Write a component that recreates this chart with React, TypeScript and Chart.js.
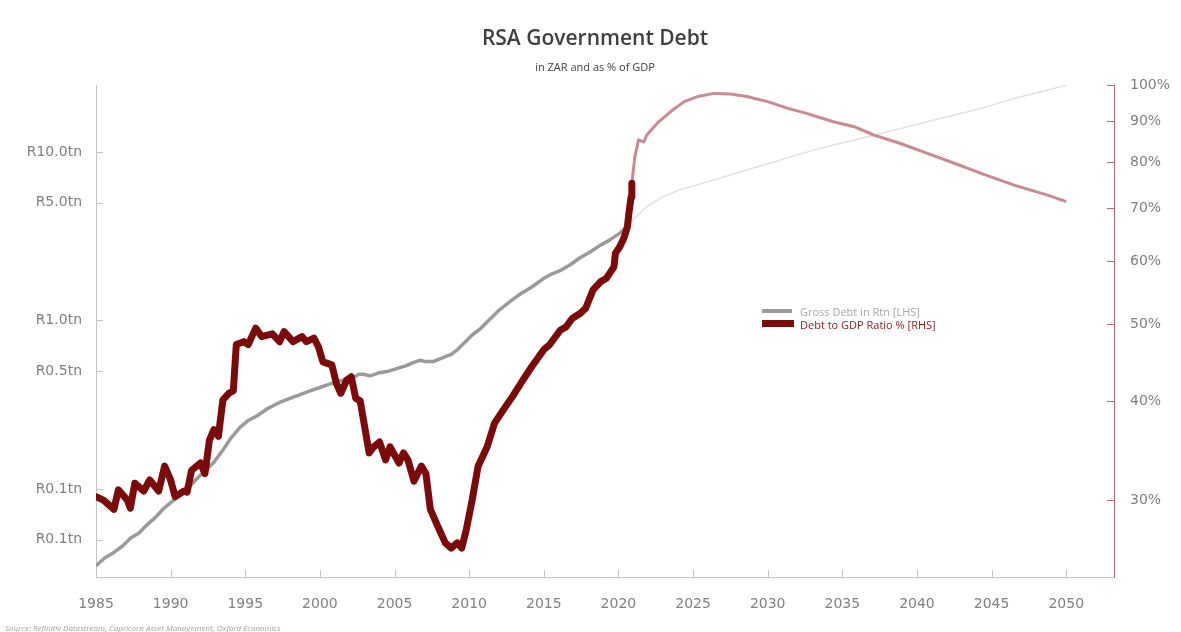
import React, { useEffect, useRef } from "react";
import { Chart, registerables } from "chart.js";

Chart.register(...registerables);

// Gross debt (R trillion), actual
const debtYears = [1985.0, 1985.6, 1986.2, 1986.8, 1987.3, 1987.9, 1988.4, 1989.0, 1989.5, 1990.0, 1990.6, 1991.2, 1991.75, 1992.3, 1992.9, 1993.5, 1994.0, 1994.65, 1995.2, 1995.8, 1996.5, 1997.3, 1998.0, 1998.45, 1999.2, 2000.0, 2000.7, 2001.35, 2002.25, 2002.6, 2002.9, 2003.35, 2004.0, 2004.6, 2005.2, 2005.8, 2006.2, 2006.7, 2007.1, 2007.6, 2008.2, 2008.8, 2009.2, 2009.7, 2010.2, 2010.7, 2011.3, 2012.0, 2012.9, 2013.5, 2014.2, 2015.0, 2015.6, 2016.2, 2016.8, 2017.4, 2018.1, 2018.8, 2019.4, 2020.1, 2020.5, 2020.8];
const debtValues = [0.035, 0.039, 0.042, 0.046, 0.051, 0.055, 0.061, 0.068, 0.076, 0.083, 0.091, 0.102, 0.115, 0.128, 0.144, 0.17, 0.198, 0.232, 0.255, 0.272, 0.3, 0.326, 0.345, 0.357, 0.378, 0.4, 0.42, 0.438, 0.458, 0.48, 0.479, 0.469, 0.49, 0.5, 0.52, 0.54, 0.56, 0.58, 0.57, 0.57, 0.6, 0.63, 0.67, 0.74, 0.82, 0.885, 1.0, 1.15, 1.33, 1.45, 1.58, 1.78, 1.9, 2.0, 2.15, 2.35, 2.55, 2.8, 3.0, 3.3, 3.55, 3.8];

// Gross debt (R trillion), forecast
const debtForecastYears = [2020.8, 2021.9, 2023.0, 2024.1, 2026.4, 2028.6, 2030.85, 2033.1, 2035.3, 2037.6, 2039.8, 2042.0, 2044.25, 2046.5, 2048.7, 2050.0];
const debtForecastValues = [3.8, 4.75, 5.44, 5.96, 6.83, 7.83, 8.97, 10.3, 11.5, 12.9, 14.45, 16.2, 18.1, 20.8, 23.3, 24.9];

// Debt to GDP ratio (%), actual
const ratioYears = [1985.0, 1985.5, 1986.2, 1986.5, 1987.1, 1987.3, 1987.6, 1988.2, 1988.6, 1989.2, 1989.6, 1990.0, 1990.3, 1990.9, 1991.1, 1991.4, 1992.0, 1992.3, 1992.6, 1992.9, 1993.2, 1993.5, 1993.9, 1994.2, 1994.4, 1994.9, 1995.2, 1995.7, 1996.1, 1996.8, 1997.3, 1997.6, 1998.2, 1998.8, 1999.1, 1999.6, 1999.9, 2000.2, 2000.8, 2001.1, 2001.4, 2001.8, 2002.1, 2002.4, 2002.7, 2003.3, 2003.6, 2004.0, 2004.4, 2004.7, 2005.3, 2005.6, 2005.9, 2006.3, 2006.8, 2007.1, 2007.4, 2007.9, 2008.4, 2008.8, 2009.2, 2009.5, 2009.8, 2010.2, 2010.6, 2011.2, 2011.7, 2012.3, 2012.9, 2013.6, 2014.2, 2015.0, 2015.4, 2016.1, 2016.5, 2016.9, 2017.4, 2017.8, 2018.3, 2018.8, 2019.2, 2019.7, 2019.8, 2020.1, 2020.4, 2020.6, 2020.7, 2020.85, 2020.9];
const ratioValues = [30.3, 30.0, 29.2, 30.9, 30.0, 29.3, 31.5, 30.8, 31.8, 30.8, 33.1, 31.8, 30.3, 30.8, 30.7, 32.7, 33.4, 32.4, 35.7, 36.8, 36.1, 40.1, 40.9, 41.2, 47.1, 47.5, 47.1, 49.4, 48.2, 48.6, 47.5, 48.9, 47.5, 48.2, 47.5, 48.0, 46.8, 44.8, 44.4, 42.1, 40.9, 42.5, 42.9, 40.3, 40.0, 34.4, 35.0, 35.5, 33.7, 35.0, 33.4, 34.4, 33.7, 31.7, 33.1, 32.4, 29.2, 27.8, 26.5, 26.1, 26.5, 26.1, 27.5, 30.0, 33.1, 35.0, 37.5, 39.0, 40.5, 42.5, 44.2, 46.4, 47.1, 49.1, 49.6, 50.8, 51.5, 52.3, 55.2, 56.5, 57.1, 59.0, 61.4, 62.6, 64.4, 66.3, 68.9, 72.3, 75.2];

// Debt to GDP ratio (%), forecast
const ratioForecastYears = [2020.9, 2021.1, 2021.35, 2021.7, 2021.9, 2022.6, 2023.5, 2024.4, 2025.3, 2026.4, 2027.5, 2028.6, 2030.0, 2031.3, 2032.6, 2034.4, 2035.8, 2037.1, 2038.9, 2040.7, 2042.5, 2044.3, 2046.5, 2048.7, 2050.0];
const ratioForecastValues = [75.2, 81.2, 85.3, 84.8, 86.5, 89.5, 92.6, 95.3, 96.7, 97.6, 97.4, 96.7, 95.3, 93.5, 92.1, 89.9, 88.6, 86.5, 84.4, 82.0, 79.7, 77.4, 74.8, 72.7, 71.3];

// Tick labels
const xTickYears = [1985, 1990, 1995, 2000, 2005, 2010, 2015, 2020, 2025, 2030, 2035, 2040, 2045, 2050];
const leftTickValues = [0.05, 0.1, 0.5, 1, 5, 10];
const leftTickLabels = ["R0.1tn", "R0.1tn", "R0.5tn", "R1.0tn", "R5.0tn", "R10.0tn"];
const rightTickValues = [30, 40, 50, 60, 70, 80, 90, 100];
const rightTickLabels = ["30%", "40%", "50%", "60%", "70%", "80%", "90%", "100%"];

const toPoints = (xs: number[], ys: number[]) => xs.map((x, i) => ({ x, y: ys[i] }));

const tickFont = { family: "'DejaVu Sans', sans-serif", size: 14 };

const inwardTicks = {
  id: "inwardTicks",
  beforeDatasetsDraw(chart: any) {
    const { ctx, chartArea } = chart;
    const sx = chart.scales.x;
    const sy = chart.scales.y;
    const sy1 = chart.scales.y1;
    ctx.save();
    ctx.lineWidth = 1;
    ctx.strokeStyle = "#c4c4c4";
    sx.ticks.forEach((t: any) => {
      const px = Math.round(sx.getPixelForValue(t.value)) + 0.5;
      ctx.beginPath();
      ctx.moveTo(px, chartArea.bottom);
      ctx.lineTo(px, chartArea.bottom - 7);
      ctx.stroke();
    });
    sy.ticks.forEach((t: any) => {
      const py = Math.round(sy.getPixelForValue(t.value)) + 0.5;
      ctx.beginPath();
      ctx.moveTo(chartArea.left, py);
      ctx.lineTo(chartArea.left + 7, py);
      ctx.stroke();
    });
    ctx.strokeStyle = "#b36a74";
    sy1.ticks.forEach((t: any) => {
      const py = Math.round(sy1.getPixelForValue(t.value)) + 0.5;
      ctx.beginPath();
      ctx.moveTo(chartArea.right, py);
      ctx.lineTo(chartArea.right - 7, py);
      ctx.stroke();
    });
    ctx.restore();
  },
};

export default function App() {
  const canvasRef = useRef<HTMLCanvasElement | null>(null);

  useEffect(() => {
    document.body.style.margin = "0";
    const canvas = canvasRef.current;
    if (!canvas) return;
    const chart = new Chart(canvas, {
      type: "line",
      data: {
        datasets: [
          {
            label: "Debt to GDP Ratio % [RHS]",
            data: toPoints(ratioYears, ratioValues),
            yAxisID: "y1",
            borderColor: "#7b0a0a",
            borderWidth: 7,
            borderJoinStyle: "round",
            borderCapStyle: "round",
            pointRadius: 0,
            tension: 0,
          },
          {
            label: "Gross Debt in Rtn [LHS]",
            data: toPoints(debtYears, debtValues),
            yAxisID: "y",
            borderColor: "#9a9a9a",
            borderWidth: 3.5,
            borderJoinStyle: "round",
            pointRadius: 0,
            tension: 0,
          },
          {
            label: "Debt to GDP forecast",
            data: toPoints(ratioForecastYears, ratioForecastValues),
            yAxisID: "y1",
            borderColor: "#c98a91",
            borderWidth: 3,
            borderJoinStyle: "round",
            pointRadius: 0,
            tension: 0,
          },
          {
            label: "Gross Debt forecast",
            data: toPoints(debtForecastYears, debtForecastValues),
            yAxisID: "y",
            borderColor: "#e0e0e0",
            borderWidth: 1.5,
            pointRadius: 0,
            tension: 0,
          },
        ],
      },
      options: {
        animation: false,
        responsive: false,
        devicePixelRatio: 1,
        layout: { padding: { top: 85, left: 0, right: 0, bottom: 0 } },
        plugins: {
          legend: { display: false },
          tooltip: { enabled: false },
          title: { display: false },
        },
        scales: {
          x: {
            type: "linear",
            position: "bottom",
            min: 1985,
            max: 2053.2,
            grid: { display: false, drawTicks: false },
            border: { display: true, color: "#c4c4c4", width: 1 },
            afterBuildTicks: (scale: any) => {
              scale.ticks = xTickYears.map((v) => ({ value: v }));
            },
            afterFit: (scale: any) => {
              scale.height = 55;
            },
            ticks: {
              autoSkip: false,
              maxRotation: 0,
              padding: 19,
              color: "#7f7f7f",
              font: tickFont,
              callback: (_v: any, i: number) => String(xTickYears[i]),
            },
          },
          y: {
            type: "logarithmic",
            position: "left",
            min: 0.03,
            max: 25,
            grid: { display: false, drawTicks: false },
            border: { display: true, color: "#c4c4c4", width: 1 },
            afterBuildTicks: (scale: any) => {
              scale.ticks = leftTickValues.map((v) => ({ value: v }));
            },
            afterFit: (scale: any) => {
              scale.width = 96;
            },
            ticks: {
              autoSkip: false,
              padding: 14,
              color: "#7f7f7f",
              font: tickFont,
              callback: (_v: any, i: number) => leftTickLabels[i],
            },
          },
          y1: {
            type: "logarithmic",
            position: "right",
            min: 24,
            max: 100,
            grid: { display: false, drawTicks: false },
            border: { display: true, color: "#b36a74", width: 1 },
            afterBuildTicks: (scale: any) => {
              scale.ticks = rightTickValues.map((v) => ({ value: v }));
            },
            afterFit: (scale: any) => {
              scale.width = 67;
            },
            ticks: {
              autoSkip: false,
              padding: 16,
              color: "#7f7f7f",
              font: tickFont,
              callback: (_v: any, i: number) => rightTickLabels[i],
            },
          },
        },
      },
      plugins: [inwardTicks],
    } as any);
    return () => chart.destroy();
  }, []);

  const sans = "'Open Sans', sans-serif";

  return (
    <div style={{ position: "relative", width: 1181, height: 632, overflow: "hidden", background: "#fff" }}>
      <canvas ref={canvasRef} width={1181} height={632} style={{ position: "absolute", left: 0, top: 0 }} />
      <div style={{ position: "absolute", left: 595, top: 37, transform: "translate(-50%, -50%)", fontFamily: sans, fontWeight: 600, fontSize: 21, color: "#3f3f3f", whiteSpace: "nowrap" }}>
        RSA Government Debt
      </div>
      <div style={{ position: "absolute", left: 595, top: 66, transform: "translate(-50%, -50%)", fontFamily: sans, fontSize: 11, color: "#404040", whiteSpace: "nowrap" }}>
        in ZAR and as % of GDP
      </div>
      <div style={{ position: "absolute", left: 762, top: 309, width: 30, height: 4, background: "#9a9a9a" }} />
      <div style={{ position: "absolute", left: 800, top: 311, transform: "translateY(-50%)", fontFamily: sans, fontSize: 11, color: "#a6a6a6", whiteSpace: "nowrap" }}>
        Gross Debt in Rtn [LHS]
      </div>
      <div style={{ position: "absolute", left: 762, top: 320, width: 32, height: 7, background: "#7b0a0a" }} />
      <div style={{ position: "absolute", left: 800, top: 324, transform: "translateY(-50%)", fontFamily: sans, fontSize: 11, color: "#8b1a1a", whiteSpace: "nowrap" }}>
        Debt to GDP Ratio % [RHS]
      </div>
      <div style={{ position: "absolute", left: 5, top: 627, transform: "translateY(-50%)", fontFamily: sans, fontStyle: "italic", fontSize: 8, color: "#a0a0a0", whiteSpace: "nowrap" }}>
        Source: Refinitiv Datastream, Capricorn Asset Management, Oxford Economics
      </div>
    </div>
  );
}
